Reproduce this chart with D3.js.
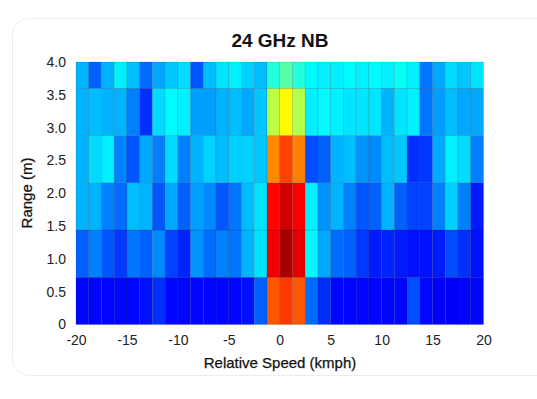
<!DOCTYPE html>
<html>
<head>
<meta charset="utf-8">
<script src="https://cdn.jsdelivr.net/npm/d3@7"></script>
<style>
  body { margin: 0; background: #fff; }
  text { font-family: "Liberation Sans", Arial, sans-serif; }
</style>
</head>
<body>
<div class="canvas"></div>
<script>
// speed bins (lower edge, kmph), 1.25 wide
const speedBins = [-20, -18.75, -17.5, -16.25, -15, -13.75, -12.5, -11.25, -10, -8.75, -7.5, -6.25,
    -5, -3.75, -2.5, -1.25, 0, 1.25, 2.5, 3.75, 5, 6.25, 7.5, 8.75, 10, 11.25, 12.5, 13.75, 15, 16.25, 17.5, 18.75];
const speedStep = 1.25;

// range bin edges (m)
const rangeEdges = [0, 0.72, 1.44, 2.16, 2.88, 3.6, 4.0];

// normalised power per range bin, one value per speed bin
const range0 = [0.13, 0.13, 0.13, 0.13, 0.13, 0.14, 0.17, 0.13, 0.13, 0.13, 0.13, 0.13, 0.13, 0.14, 0.22, 0.79,
    0.82, 0.79, 0.23, 0.17, 0.13, 0.13, 0.13, 0.13, 0.13, 0.13, 0.20, 0.13, 0.12, 0.12, 0.13, 0.13];
const range1 = [0.22, 0.25, 0.21, 0.18, 0.24, 0.22, 0.26, 0.19, 0.16, 0.27, 0.23, 0.25, 0.24, 0.30, 0.35, 0.89,
    0.96, 0.90, 0.37, 0.29, 0.23, 0.22, 0.18, 0.15, 0.16, 0.15, 0.14, 0.14, 0.15, 0.20, 0.17, 0.14];
const range2 = [0.30, 0.30, 0.25, 0.23, 0.31, 0.30, 0.21, 0.29, 0.22, 0.28, 0.26, 0.21, 0.24, 0.31, 0.35, 0.87,
    0.92, 0.88, 0.36, 0.27, 0.30, 0.25, 0.21, 0.22, 0.30, 0.22, 0.19, 0.19, 0.25, 0.33, 0.25, 0.15];
const range3 = [0.30, 0.34, 0.36, 0.25, 0.21, 0.29, 0.25, 0.34, 0.25, 0.30, 0.33, 0.31, 0.33, 0.33, 0.32, 0.74,
    0.81, 0.75, 0.20, 0.22, 0.30, 0.31, 0.27, 0.26, 0.31, 0.32, 0.17, 0.18, 0.29, 0.36, 0.34, 0.25];
const range4 = [0.30, 0.31, 0.30, 0.30, 0.25, 0.17, 0.34, 0.37, 0.36, 0.28, 0.28, 0.30, 0.31, 0.29, 0.32, 0.56,
    0.63, 0.55, 0.36, 0.37, 0.36, 0.35, 0.35, 0.35, 0.30, 0.35, 0.36, 0.24, 0.28, 0.31, 0.29, 0.29];
const range5 = [0.30, 0.22, 0.30, 0.36, 0.31, 0.23, 0.29, 0.32, 0.34, 0.21, 0.31, 0.35, 0.36, 0.33, 0.31, 0.41,
    0.46, 0.41, 0.37, 0.36, 0.36, 0.37, 0.36, 0.37, 0.36, 0.38, 0.36, 0.24, 0.29, 0.34, 0.32, 0.35];
const rows = [range0, range1, range2, range3, range4, range5];

const xTicks = [-20, -15, -10, -5, 0, 5, 10, 15, 20];
const yTicks = [0, 0.5, 1, 1.5, 2, 2.5, 3, 3.5, 4];

const width = 537, height = 399;

const svg = d3.select('.canvas')
    .append('svg')
    .attr('width', width)
    .attr('height', height);

// card background
svg.append('rect')
    .attr('x', 12.5).attr('y', 18.5)
    .attr('width', 560).attr('height', 357)
    .attr('rx', 16)
    .attr('fill', '#fff')
    .attr('stroke', '#ededed');

// scales
const x = d3.scaleLinear().domain([-20, 20]).range([76, 483.5]);
const y = d3.scaleLinear().domain([0, 4]).range([324.5, 62]);

// matlab style jet colormap
const clamp = v => Math.max(0, Math.min(1, v));
const jet = v => {
    const r = clamp(1.5 - Math.abs(4 * v - 3));
    const g = clamp(1.5 - Math.abs(4 * v - 2));
    const b = clamp(1.5 - Math.abs(4 * v - 1));
    return d3.rgb(r * 255, g * 255, b * 255).toString();
};

// flatten cells
const cells = [];
rows.forEach((vals, ri) => {
    vals.forEach((v, ci) => {
        cells.push({ s0: speedBins[ci], s1: speedBins[ci] + speedStep, r0: rangeEdges[ri], r1: rangeEdges[ri + 1], v: v });
    });
});

svg.append('g').selectAll('rect')
    .data(cells)
    .enter().append('rect')
    .attr('x', d => x(d.s0))
    .attr('y', d => y(d.r1))
    .attr('width', d => x(d.s1) - x(d.s0))
    .attr('height', d => y(d.r0) - y(d.r1))
    .attr('fill', d => jet(d.v))
    .attr('stroke', 'rgba(0,0,0,0.2)')
    .attr('stroke-width', 0.6);

// axes (labels only, no lines) - plain hyphen minus like the original
const xAxis = d3.axisBottom(x).tickValues(xTicks).tickSize(0).tickPadding(9).tickFormat(d => String(d));
const yAxis = d3.axisLeft(y).tickValues(yTicks).tickSize(0).tickPadding(10)
    .tickFormat(d => d === 0 ? '0' : d.toFixed(1));

const xg = svg.append('g').attr('transform', 'translate(0,326)').call(xAxis);
const yg = svg.append('g').attr('transform', 'translate(76,0)').call(yAxis);
[xg, yg].forEach(g => {
    g.select('.domain').remove();
    g.selectAll('text').attr('font-size', 14).attr('fill', '#222')
        .attr('font-family', '"Liberation Sans", Arial, sans-serif');
});

// title and labels
svg.append('text')
    .attr('x', 280).attr('y', 47)
    .attr('text-anchor', 'middle')
    .attr('font-size', 19).attr('font-weight', 'bold')
    .attr('fill', '#111')
    .text('24 GHz NB');

svg.append('text')
    .attr('x', 280).attr('y', 368)
    .attr('text-anchor', 'middle')
    .attr('font-size', 15)
    .attr('fill', '#111')
    .attr('stroke', '#111').attr('stroke-width', 0.25)
    .text('Relative Speed (kmph)');

svg.append('text')
    .attr('transform', 'translate(32,193) rotate(-90)')
    .attr('text-anchor', 'middle')
    .attr('font-size', 15)
    .attr('fill', '#111')
    .attr('stroke', '#111').attr('stroke-width', 0.25)
    .text('Range (m)');
</script>
</body>
</html>
